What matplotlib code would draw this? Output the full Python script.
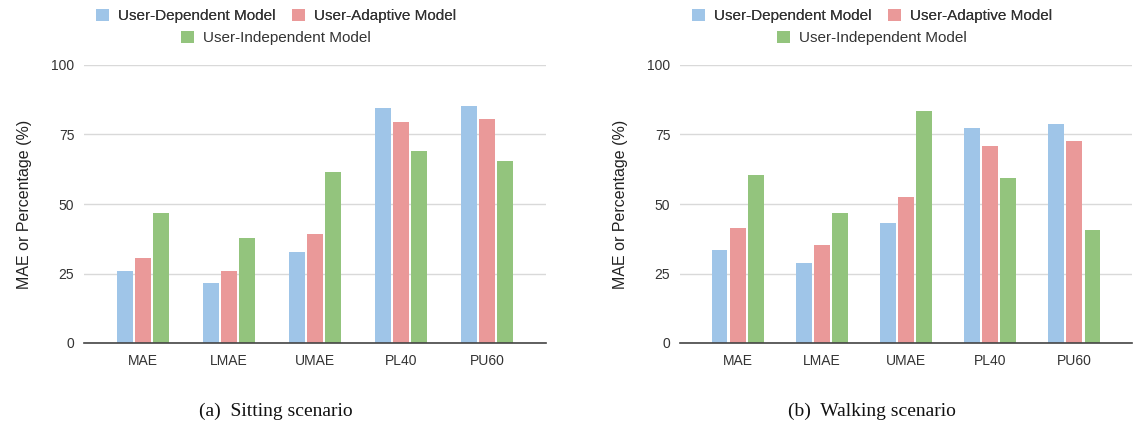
import matplotlib
matplotlib.use("Agg")
import matplotlib.pyplot as plt
import numpy as np
from matplotlib.patches import Patch

categories = ["MAE", "LMAE", "UMAE", "PL40", "PU60"]
series_names = ["User-Dependent Model", "User-Adaptive Model", "User-Independent Model"]
sitting_dependent = [25.8, 21.5, 32.9, 84.4, 85.3]
sitting_adaptive = [30.5, 25.8, 39.2, 79.4, 80.5]
sitting_independent = [46.7, 37.9, 61.4, 68.9, 65.3]
walking_dependent = [33.6, 28.6, 43.1, 77.4, 78.6]
walking_adaptive = [41.4, 35.2, 52.5, 70.8, 72.8]
walking_independent = [60.3, 46.9, 83.3, 59.4, 40.7]
yticks = [0, 25, 50, 75, 100]
captions = ["(a)  Sitting scenario", "(b)  Walking scenario"]

colors = ["#9fc5e8", "#ea9999", "#93c47d"]

plt.rcParams['font.family'] = ['Liberation Sans', 'DejaVu Sans']

fig = plt.figure(figsize=(11.33, 4.30), dpi=100)
W, H = 1133, 430
panels = [
    dict(left=84, right=546, center=276, data=[sitting_dependent, sitting_adaptive, sitting_independent]),
    dict(left=680, right=1132, center=872, data=[walking_dependent, walking_adaptive, walking_independent]),
]
top_px, bot_px = 65, 343
x = np.arange(len(categories))
bw = 0.186
step = 0.215

for i, p in enumerate(panels):
    ax = fig.add_axes([p['left'] / W, 1 - bot_px / H, (p['right'] - p['left']) / W, (bot_px - top_px) / H])
    for k, vals in enumerate(p['data']):
        ax.bar(x + (k - 1) * step, vals, width=bw, color=colors[k], zorder=3, edgecolor='none')
    ax.set_ylim(0, 100)
    ax.set_xlim(-59 / 86, len(categories) - 1 + 59 / 86)
    ax.set_yticks(yticks)
    ax.set_xticks(x)
    ax.set_xticklabels(categories, fontsize=10, color='#333333')
    ax.tick_params(axis='y', labelsize=10, labelcolor='#333333', length=0, pad=7)
    ax.tick_params(axis='x', length=0, pad=8)
    ax.grid(axis='y', color='#d9d9d9', linewidth=1.0, zorder=0)
    for s in ['top', 'right', 'left']:
        ax.spines[s].set_visible(False)
    ax.spines['bottom'].set_color('#444444')
    ax.spines['bottom'].set_linewidth(1.2)
    ax.spines['bottom'].set_zorder(4)
    ax.set_ylabel("MAE or Percentage (%)", fontsize=11.5, color='#222222', labelpad=14)

    handles = [Patch(facecolor=c, edgecolor='none') for c in colors]
    leg1 = fig.legend(handles[:2], series_names[:2], ncol=2, loc='center',
                      bbox_to_anchor=(p['center'] / W, 1 - 16 / H), frameon=False,
                      fontsize=11, handlelength=0.85, handleheight=0.85, handletextpad=0.6,
                      columnspacing=1.1, labelcolor='#333333')
    leg2 = fig.legend(handles[2:], series_names[2:], ncol=1, loc='center',
                      bbox_to_anchor=(p['center'] / W, 1 - 38 / H), frameon=False,
                      fontsize=11, handlelength=0.85, handleheight=0.85, handletextpad=0.6,
                      labelcolor='#333333')
    fig.add_artist(leg1)
    fig.text(p['center'] / W, 1 - 411 / H, captions[i], ha='center', va='center',
             fontsize=14, family=['Liberation Serif', 'DejaVu Serif'], color='#111111')

fig.savefig("out.png", dpi=100)
